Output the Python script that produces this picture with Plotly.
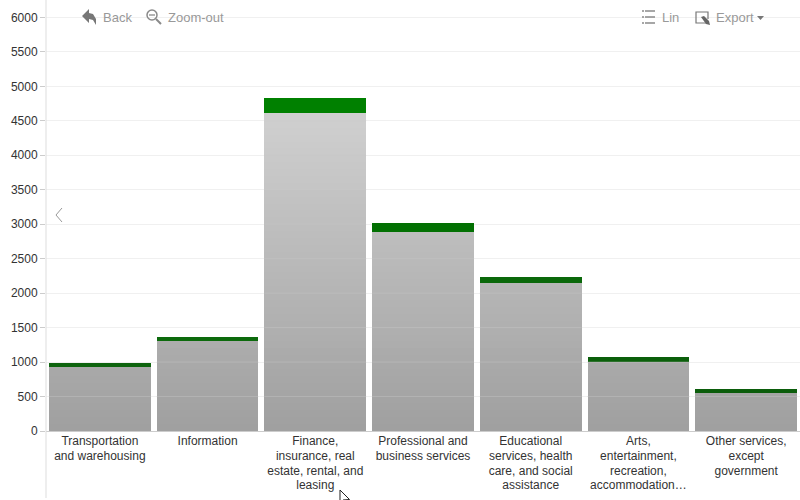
import numpy as np
import plotly.graph_objects as go

categories = ["Transportation<br>and warehousing", "Information",
              "Finance,<br>insurance, real<br>estate, rental, and<br>leasing",
              "Professional and<br>business services",
              "Educational<br>services, health<br>care, and social<br>assistance",
              "Arts,<br>entertainment,<br>recreation,<br>accommodation\u2026",
              "Other services,<br>except<br>government"]
gray_values = [922, 1300, 4620, 2890, 2150, 1004, 545]
green_values = [58, 70, 210, 130, 90, 73, 62]
green_colors = ["#0e640e", "#0c6a0c", "#008000", "#027002", "#0a680a", "#0b5f0b", "#0b5d0b"]
y_ticks = [0, 500, 1000, 1500, 2000, 2500, 3000, 3500, 4000, 4500, 5000, 5500, 6000]

W, H = 800, 500
L, B = 46, 69
PW, PH = W - L, H - B


def X(px):
    return (px - L) / PW


def Y(py):
    return (PH - py) / PH


def path(pts, close=True):
    s = "M " + " L ".join(f"{X(a):.5f},{Y(b):.5f}" for a, b in pts)
    return s + (" Z" if close else "")


xs = list(range(len(categories)))
fig = go.Figure()

# grey bars: shaded by height, drawn as stacked bands
band_size = 100
edges = np.arange(0, 4700, band_size)
vals = np.array(gray_values, dtype=float)
for lo in edges:
    seg = np.clip(vals, lo, lo + band_size) - np.clip(vals, lo, lo)
    g = int(round(160 + 48 * min(lo / 4600, 1)))
    fig.add_trace(go.Bar(x=xs, y=seg, marker=dict(color=f"rgb({g},{g},{g})", line_width=0),
                         showlegend=False, hoverinfo="skip"))
fig.add_trace(go.Bar(x=xs, y=green_values, marker=dict(color=green_colors, line_width=0), showlegend=False))

shapes = []
# gridlines showing through the grey part of each bar
half = (1 - 0.055) / 2
for i, top in zip(xs, gray_values):
    for t in y_ticks[1:]:
        if t < top:
            shapes.append(dict(type="line", xref="x", yref="y", x0=i - half, x1=i + half, y0=t, y1=t,
                               line=dict(color="rgba(200,200,200,0.4)", width=1), layer="above"))
# axis lines
shapes.append(dict(type="line", xref="paper", yref="paper", x0=0, x1=0, y0=Y(0), y1=Y(498),
                   line=dict(color="#dddddd", width=1)))
icon = "#777777"
# back arrow
shapes.append(dict(type="path", xref="paper", yref="paper", fillcolor=icon, line_width=0,
                   path=path([(82, 16), (89, 9), (89, 13), (93, 14), (96, 19), (96, 25), (93, 20), (89, 19), (89, 23)])))
# magnifier
shapes.append(dict(type="circle", xref="paper", yref="paper", x0=X(147), x1=X(157), y0=Y(10), y1=Y(20),
                   line=dict(color="#8a8a8a", width=1.5)))
shapes.append(dict(type="path", xref="paper", yref="paper", line=dict(color="#8a8a8a", width=2),
                   path=path([(156, 19), (161, 24)], False)))
shapes.append(dict(type="path", xref="paper", yref="paper", line=dict(color="#8a8a8a", width=1.3),
                   path=path([(149, 15), (155, 15)], False)))
# list icon
for yy in (11, 17, 23):
    shapes.append(dict(type="path", xref="paper", yref="paper", line=dict(color="#777777", width=1.3),
                       path=path([(645, yy), (655, yy)], False)))
    shapes.append(dict(type="path", xref="paper", yref="paper", line=dict(color="#777777", width=1.3),
                       path=path([(642, yy), (644, yy)], False)))
# export icon
shapes.append(dict(type="path", xref="paper", yref="paper", line=dict(color="#777777", width=1.2),
                   path=path([(707, 23), (696, 23), (696, 12), (708, 12), (708, 19)], False)))
shapes.append(dict(type="path", xref="paper", yref="paper", fillcolor="#666666", line_width=0,
                   path=path([(701, 17), (704, 16), (709, 21), (710, 25), (706, 24)])))
# dropdown caret
shapes.append(dict(type="path", xref="paper", yref="paper", fillcolor="#777777", line_width=0,
                   path=path([(757, 16), (764, 16), (760.5, 20)])))
# chevron
shapes.append(dict(type="path", xref="paper", yref="paper", line=dict(color="#999999", width=1),
                   path=path([(62, 208), (56, 215), (62, 222)], False)))
# mouse pointer
shapes.append(dict(type="path", xref="paper", yref="paper", fillcolor="#ffffff", line=dict(color="#222222", width=1),
                   path=path([(340, 490), (340, 503), (343, 500), (349.5, 499.5)])))

ann = [("Back", 101), ("Zoom-out", 166), ("Lin", 660), ("Export", 714)]
annotations = [dict(text=t, xref="paper", yref="paper", x=X(px), y=Y(17.5), xanchor="left", yanchor="middle",
                    showarrow=False, font=dict(family="Liberation Sans", size=13, color="#999999"))
               for t, px in ann]

fig.update_layout(
    width=W, height=H, autosize=False, barmode="stack", bargap=0.055,
    margin=dict(l=L, r=0, t=0, b=B), plot_bgcolor="#ffffff", paper_bgcolor="#ffffff",
    font=dict(family="Liberation Sans", size=12, color="#333333"),
    showlegend=False, shapes=shapes, annotations=annotations,
    xaxis=dict(tickmode="array", tickvals=xs, ticktext=categories, range=[-0.5, 6.5], showgrid=False,
               zeroline=False, showline=True, linecolor="#cccccc", linewidth=1, ticks="", tickangle=0,
               ticklabelstandoff=-1, tickfont=dict(size=12, color="#333333"), fixedrange=True),
    yaxis=dict(tickmode="array", tickvals=y_ticks, range=[0, 6253], showgrid=True, gridcolor="#f0f0f0",
               gridwidth=1, zeroline=False, showline=False, ticks="outside", ticklen=5, tickcolor="#cccccc",
               tickfont=dict(size=12, color="#333333"), fixedrange=True),
)
fig.write_html("out.html", config=dict(displayModeBar=False),
               post_script="""document.body.style.margin='0';document.documentElement.style.overflow='hidden';
document.querySelectorAll('.xtick text').forEach(function(t){
  t.querySelectorAll('tspan.line').forEach(function(s,i){
    s.setAttribute('y', parseFloat(s.getAttribute('y')) - i);
  });
});""")
